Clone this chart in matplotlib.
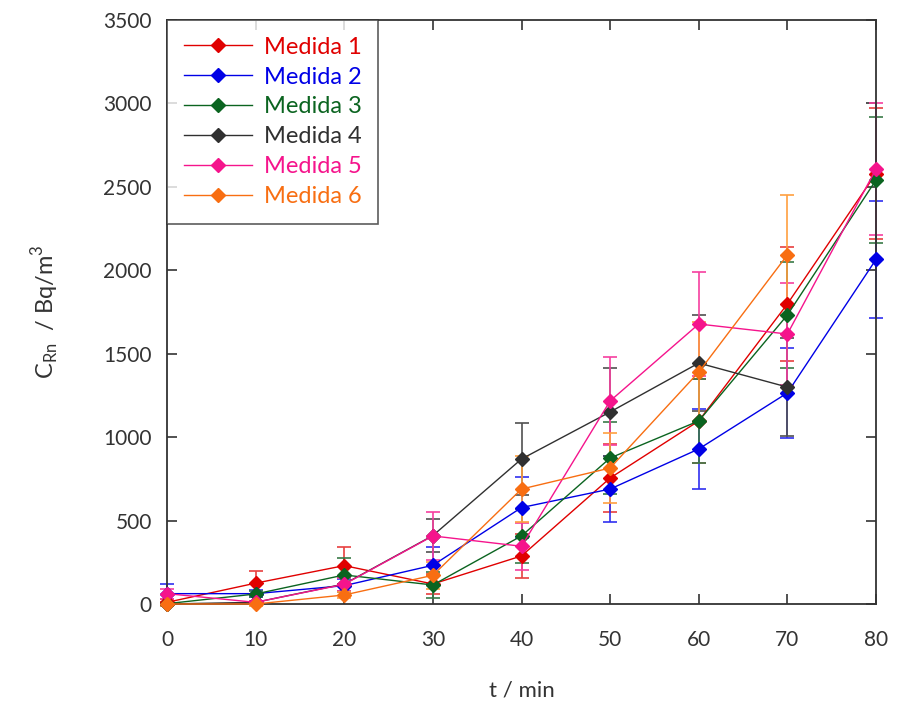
import numpy as np
import matplotlib.pyplot as plt

plt.rcParams['font.family'] = ['Lato', 'DejaVu Sans']

# time (min)
t = [0, 10, 20, 30, 40, 50, 60, 70, 80]

# C_Rn (Bq/m3) and uncertainties, one list per measurement
m1 = [10, 125, 230, 120, 288, 755, 1097, 1798, 2580]
m1_err = [20, 70, 110, 60, 130, 205, 250, 342, 390]
m2 = [62, 62, 110, 232, 578, 689, 929, 1265, 2065]
m2_err = [60, 20, 40, 110, 183, 198, 240, 269, 350]
m3 = [2, 60, 174, 114, 408, 875, 1097, 1732, 2541]
m3_err = [10, 20, 100, 80, 162, 216, 252, 318, 380]
m4 = [0, 10, 120, 410, 869, 1151, 1444, 1300]
m4_err = [10, 10, 40, 100, 216, 263, 288, 293]
m5 = [62, 10, 118, 408, 346, 1217, 1678, 1618, 2607]
m5_err = [30, 10, 40, 143, 142, 263, 312, 306, 396]
m6 = [0, 0, 54, 172, 689, 815, 1390, 2092]
m6_err = [10, 10, 20, 80, 200, 210, 300, 359]

series = [m1, m2, m3, m4, m5, m6]
errors = [m1_err, m2_err, m3_err, m4_err, m5_err, m6_err]
labels = ['Medida 1', 'Medida 2', 'Medida 3', 'Medida 4', 'Medida 5', 'Medida 6']
colors = ['#E00000', '#0000E6', '#0B6420', '#303030', '#F5148C', '#F86E12']
err_colors = ['#E84040', '#3030F0', '#3A7A48', '#505050', '#F6409F', '#FFA040']

fig = plt.figure(figsize=(9, 7.05), dpi=100)
ax = fig.add_axes([167/900, 1 - 604/705, (876-167)/900, (604-20)/705])

for y_, e_, c_, ec_, lab in zip(series, errors, colors, err_colors, labels):
    x_ = t[:len(y_)]
    ax.errorbar(x_, y_, yerr=e_, fmt='none', ecolor=ec_, elinewidth=1.2,
                capsize=5, capthick=1.2, clip_on=False, zorder=2)
    ax.plot(x_, y_, '-', color=c_, linewidth=1, marker='D', markersize=7.5,
            markeredgecolor=c_, clip_on=False, label=lab, zorder=3)

ax.set_xlim(0, 80)
ax.set_ylim(0, 3500)
ax.set_xticks(t)
ax.set_yticks(np.arange(0, 3501, 500))
ax.tick_params(direction='in', top=True, right=True, length=7, width=1.2,
               labelsize=15, colors='#333333', pad=19)
ax.tick_params(axis='y', pad=11)
for sp in ax.spines.values():
    sp.set_linewidth(1.3)
    sp.set_color('#333333')

ax.set_xlabel('t / min', fontsize=16, color='#333333', labelpad=22)
ax.set_ylabel(r'C$_{\mathregular{Rn}}$  / Bq/m$^{\mathregular{3}}$', fontsize=17,
              color='#333333', labelpad=30)

leg = ax.legend(loc='upper left', bbox_to_anchor=(0, 1), fontsize=17,
                frameon=True, fancybox=False, edgecolor='#333333',
                borderpad=0.7, labelspacing=0.38, handlelength=2.9,
                handletextpad=0.5, borderaxespad=0)
leg.get_frame().set_linewidth(1.2)
for txt, c_ in zip(leg.get_texts(), colors):
    txt.set_color(c_)

plt.savefig('out.png', dpi=100)
